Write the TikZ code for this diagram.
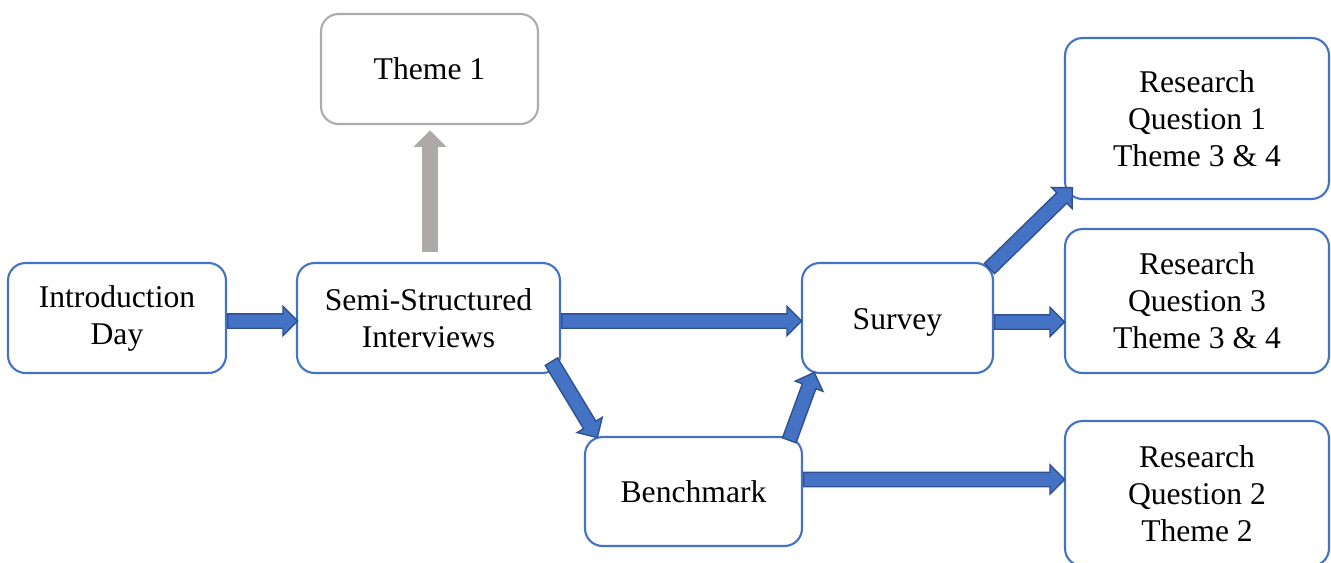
\documentclass[tikz,border=0pt]{standalone}
\usepackage{fontspec}
\setmainfont{Liberation Serif}
\usetikzlibrary{calc,shapes.arrows}

\definecolor{boxblue}{HTML}{4472C4}
\definecolor{arrowedge}{HTML}{2F528F}
\definecolor{arrowgrey}{HTML}{AEAAAA}
\definecolor{boxgrey}{HTML}{AFABAB}

\tikzset{
  stage/.style={draw=boxblue,line width=1.2pt,rounded corners=0.35cm,align=center,
    font=\fontsize{18}{21}\selectfont},
  bluearrow/.style={single arrow,draw=arrowedge,fill=boxblue,line width=0.8pt,
    inner xsep=0pt,inner ysep=0.13cm,single arrow head extend=0.15cm},
  greyarrow/.style={bluearrow,draw=arrowgrey,fill=arrowgrey}
}

% block arrow from #2 to #3
\newcommand{\blockarrow}[3][bluearrow]{%
  \path let \p1=($(#3)-(#2)$), \n1={veclen(\x1,\y1)}, \n2={atan2(\y1,\x1)} in
    node[#1,minimum height=\n1,rotate=\n2,anchor=tail] at (#2) {};}

\begin{document}
\begin{tikzpicture}[x=0.02cm,y=-0.02cm]
\useasboundingbox (0,0) rectangle (1331,562);

\node[stage,minimum width=4.36cm,minimum height=2.2cm] (intro) at (117,318) {Introduction\\Day};
\node[stage,minimum width=5.26cm,minimum height=2.2cm] (semi) at (428.5,318) {Semi-Structured\\Interviews};
\node[stage,draw=boxgrey,minimum width=4.34cm,minimum height=2.2cm] (theme) at (429.5,69) {Theme 1};
\node[stage,minimum width=3.82cm,minimum height=2.2cm] (survey) at (897.5,318) {\raisebox{-0.08cm}[\height][\depth]{Survey}};
\node[stage,minimum width=4.34cm,minimum height=2.18cm] (bench) at (693.5,491.5) {Benchmark};
\node[stage,minimum width=5.28cm,minimum height=3.22cm] (rqone) at (1197,118.5) {Research\\Question 1\\Theme 3 \& 4};
\node[stage,minimum width=5.28cm,minimum height=2.88cm] (rqthree) at (1197,301) {Research\\Question 3\\Theme 3 \& 4};
\node[stage,minimum width=5.28cm,minimum height=2.9cm] (rqtwo) at (1197,493.5) {Research\\Question 2\\Theme 2};

% arrow ends
\coordinate (a1) at ($(intro.east)+(0,3)$);
\coordinate (b1) at ($(semi.west)+(1,3)$);
\coordinate (a2) at ($(semi.north)+(1.5,-10)$);
\coordinate (b2) at ($(theme.south)+(0.5,7)$);
\coordinate (a3) at ($(semi.east)+(0,3)$);
\coordinate (b3) at ($(survey.west)+(0,3)$);
\coordinate (a4) at ($(semi.south east)+(-10,-13)$);
\coordinate (b4) at ($(bench.north west)+(13,1)$);
\coordinate (a5) at ($(bench.north east)+(-14,5)$);
\coordinate (b5) at ($(survey.south west)+(13,-1)$);
\coordinate (a6) at ($(survey.north east)+(-5,7)$);
\coordinate (b6) at ($(rqone.south west)+(8,-12)$);
\coordinate (a7) at ($(survey.east)+(0,4)$);
\coordinate (b7) at ($(rqthree.west)+(0,21)$);
\coordinate (a8) at ($(bench.east)+(0,-12)$);
\coordinate (b8) at ($(rqtwo.west)+(0,-14)$);

\blockarrow{a1}{b1}
\blockarrow[greyarrow]{a2}{b2}
\blockarrow{a3}{b3}
\blockarrow{a4}{b4}
\blockarrow{a5}{b5}
\blockarrow{a6}{b6}
\blockarrow{a7}{b7}
\blockarrow{a8}{b8}
\end{tikzpicture}
\end{document}
